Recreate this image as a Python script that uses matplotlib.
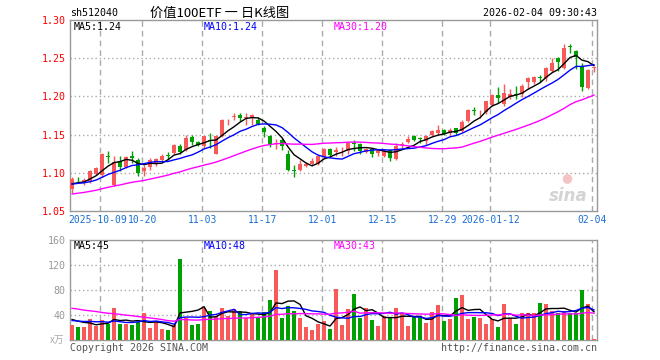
import numpy as np
import pandas as pd
import matplotlib
matplotlib.use("Agg")
import matplotlib.pyplot as plt

# 价值100ETF (sh512040) 日K线, 2025-09-24 .. 2026-02-04
open_ = [1.079, 1.0905, 1.087, 1.0895, 1.099, 1.097, 1.1215, 1.084, 1.115, 1.108,
         1.1225, 1.117, 1.102, 1.107, 1.111, 1.117, 1.123, 1.126, 1.135, 1.130,
         1.1465, 1.140, 1.135, 1.1435, 1.125, 1.1487, 1.166, 1.173, 1.176, 1.172,
         1.172, 1.1697, 1.158, 1.1487, 1.138, 1.1435, 1.125, 1.1035, 1.104, 1.1083,
         1.1114, 1.112, 1.1206, 1.1313, 1.127, 1.128, 1.1287, 1.139, 1.1383, 1.127,
         1.1313, 1.126, 1.1217, 1.1296, 1.1183, 1.1365, 1.1409, 1.1478, 1.1445, 1.1413,
         1.150, 1.152, 1.1565, 1.152, 1.158, 1.1548, 1.168, 1.1815, 1.178, 1.179,
         1.189, 1.2018, 1.190, 1.1987, 1.2022, 1.203, 1.2184, 1.2184, 1.225, 1.224,
         1.2329, 1.2504, 1.2368, 1.2655, 1.2592, 1.239, 1.211, 1.237]
high = [1.094, 1.094, 1.093, 1.104, 1.107, 1.126, 1.128, 1.122, 1.1225, 1.1225,
        1.128, 1.119, 1.110, 1.119, 1.120, 1.124, 1.127, 1.138, 1.138, 1.150,
        1.150, 1.142, 1.148, 1.152, 1.150, 1.171, 1.171, 1.178, 1.178, 1.178,
        1.177, 1.173, 1.161, 1.150, 1.144, 1.1456, 1.130, 1.1105, 1.117, 1.1136,
        1.119, 1.123, 1.132, 1.1326, 1.134, 1.134, 1.140, 1.1435, 1.139, 1.1326,
        1.1326, 1.131, 1.131, 1.131, 1.139, 1.140, 1.148, 1.150, 1.147, 1.150,
        1.1565, 1.163, 1.157, 1.159, 1.159, 1.169, 1.1835, 1.1855, 1.1825, 1.1943,
        1.2031, 1.2118, 1.2162, 1.2096, 1.214, 1.2162, 1.226, 1.2272, 1.228, 1.2382,
        1.2504, 1.2522, 1.268, 1.2689, 1.261, 1.2434, 1.236, 1.2382]
low = [1.074, 1.086, 1.084, 1.086, 1.097, 1.095, 1.113, 1.083, 1.103, 1.106,
       1.113, 1.096, 1.096, 1.104, 1.109, 1.115, 1.117, 1.1245, 1.125, 1.128,
       1.137, 1.135, 1.133, 1.133, 1.124, 1.147, 1.162, 1.169, 1.168, 1.163,
       1.163, 1.162, 1.147, 1.134, 1.131, 1.130, 1.103, 1.095, 1.103, 1.1075,
       1.110, 1.110, 1.119, 1.121, 1.122, 1.122, 1.125, 1.128, 1.125, 1.126,
       1.121, 1.1226, 1.121, 1.115, 1.117, 1.1326, 1.139, 1.1413, 1.139, 1.137,
       1.148, 1.150, 1.150, 1.150, 1.149, 1.154, 1.167, 1.1755, 1.1715, 1.1776,
       1.1877, 1.192, 1.1877, 1.1965, 1.1965, 1.1987, 1.2096, 1.216, 1.2193, 1.2206,
       1.2316, 1.2338, 1.236, 1.2566, 1.236, 1.2066, 1.2096, 1.2316]
close = [1.092, 1.090, 1.091, 1.1018, 1.106, 1.1245, 1.1205, 1.114, 1.108, 1.1205,
         1.119, 1.100, 1.106, 1.117, 1.118, 1.1225, 1.1225, 1.136, 1.127, 1.1455,
         1.140, 1.136, 1.148, 1.142, 1.1487, 1.1697, 1.167, 1.174, 1.172, 1.173,
         1.1755, 1.1645, 1.1535, 1.138, 1.139, 1.1346, 1.104, 1.1025, 1.1114, 1.1114,
         1.1158, 1.1215, 1.131, 1.1239, 1.1296, 1.1287, 1.139, 1.138, 1.1283, 1.1313,
         1.124, 1.1296, 1.129, 1.1196, 1.1357, 1.137, 1.1443, 1.1435, 1.1443, 1.1478,
         1.1543, 1.1565, 1.1513, 1.1565, 1.152, 1.167, 1.182, 1.181, 1.1785, 1.1934,
         1.2022, 1.1978, 1.204, 1.2031, 1.2018, 1.214, 1.2237, 1.225, 1.2245, 1.2373,
         1.2439, 1.2447, 1.2636, 1.265, 1.2513, 1.2127, 1.2346, 1.2373]
# 成交量 (万手)
volume = [24, 20.8, 20.8, 33.6, 22.4, 31.5, 25.6, 51.2, 25.1, 25.6,
          24, 29.3, 42.7, 19.2, 29.3, 17.6, 15.5, 24.5, 129.6, 35.7,
          24, 25.6, 51.7, 46.4, 37.9, 51.7, 38.4, 49.6, 46.4, 35.7,
          41.1, 34.7, 44.8, 64, 112, 35.7, 54.4, 46.4, 35.7, 21.3,
          16, 25.6, 30.9, 17.6, 81.6, 24, 49.6, 73.6, 35.7, 51.7,
          32, 22.4, 38.4, 34.7, 51.2, 43.2, 22.4, 36.3, 36.3, 27.2,
          45, 56, 30.4, 33.6, 67, 72, 34, 37, 35, 26,
          34, 20.8, 58, 36, 25.6, 44, 44, 44, 60, 57,
          47, 44, 47, 42.7, 42.7, 80, 58, 2.1]

# estimated closes / volumes before the window (only feed the moving averages)
prior_close = [1.058, 1.061, 1.060, 1.064, 1.062, 1.066, 1.063, 1.067, 1.065, 1.068,
               1.066, 1.069, 1.064, 1.067, 1.070, 1.068, 1.066, 1.071, 1.069, 1.072,
               1.080, 1.084, 1.087, 1.085, 1.088, 1.083, 1.086, 1.082, 1.085]
prior_volume = [58, 72, 66, 55, 80, 61, 70, 59, 64, 52, 68, 75, 57, 62, 60, 66, 55,
                45, 42, 42, 30, 28, 31, 29, 30, 34, 31, 38, 37]

holidays = ["2025-10-01", "2025-10-02", "2025-10-03", "2025-10-06", "2025-10-07",
            "2025-10-08", "2026-01-01", "2026-01-02"]
tick_dates = ["2025-10-09", "2025-10-20", "2025-11-03", "2025-11-17", "2025-12-01",
              "2025-12-15", "2025-12-29", "2026-01-12", "2026-02-04"]
tick_labels = ["2025-10-09", "10-20", "11-03", "11-17", "12-01", "12-15",
               "12-29", "2026-01-12", "02-04"]

RED = "#f85a5a"
GREEN = "#00a000"
GRID = "#aaaaaa"
MONO = "DejaVu Sans Mono"
CJK = ["Noto Sans CJK SC", "DejaVu Sans"]

dates = pd.bdate_range("2025-09-24", "2026-02-04")
dates = dates[~dates.isin(pd.to_datetime(holidays))]
n = len(close)
x = np.arange(n)
tick_idx = [dates.get_loc(pd.Timestamp(d)) for d in tick_dates]
grid_x = [t - 0.3 for t in tick_idx]

o = np.array(open_)
c = np.array(close)
h = np.array(high)
l = np.array(low)
up = c >= o
colors = np.where(up, RED, GREEN)

all_close = pd.Series(prior_close + close)
all_vol = pd.Series(prior_volume + volume)
k = len(prior_close)
ma = {p: all_close.rolling(p, min_periods=1).mean().values[k:] for p in (5, 10, 30)}
vma = {p: all_vol.rolling(p, min_periods=1).mean().values[k:] for p in (5, 10, 30)}
ma_colors = {5: "black", 10: "#0000ff", 30: "#ff00ff"}

W, H = 660, 360
fig = plt.figure(figsize=(W / 100, H / 100), dpi=100)


def fx(px):
    return px / W


def fy(py):
    return 1 - py / H


L, R = 70, 597
ax = fig.add_axes([fx(L), fy(211), fx(R - L), (211 - 20) / H])
axv = fig.add_axes([fx(L), fy(340), fx(R - L), (340 - 240) / H])

xlim = (-0.35, n - 0.5)

# --- price panel ---
ax.vlines(x, l, h, colors=colors, lw=1, zorder=3)
body = np.maximum(np.abs(c - o), 0.0009)
ax.bar(x, body, bottom=np.minimum(o, c), width=0.8, color=colors, zorder=4,
       linewidth=0)
for p in (5, 10, 30):
    ax.plot(x, ma[p], color=ma_colors[p], lw=1, zorder=5)
ax.set_xlim(*xlim)
ax.set_ylim(1.05, 1.30)
yt = np.arange(1.05, 1.301, 0.05)
ax.set_yticks(yt)
ax.set_yticklabels([f"{v:.2f}" for v in yt], color="red", fontsize=7.2, family=MONO)
for v in yt[1:-1]:
    ax.axhline(v, color=GRID, lw=1, ls=(0, (1, 2)), zorder=1)
# first two labels sit edge to edge in the original
label_x = list(grid_x)
label_x[0] -= 0.5
label_x[1] += 0.1
ax.set_xticks(label_x)
ax.set_xticklabels(tick_labels, color="#1a6fd4", fontsize=7.0, family=MONO)

# --- volume panel ---
axv.bar(x, volume, width=0.8, color=colors, linewidth=0, zorder=3)
for p in (5, 10, 30):
    axv.plot(x, vma[p], color=ma_colors[p], lw=1, zorder=4)
axv.set_xlim(*xlim)
axv.set_ylim(0, 160)
axv.set_yticks([40, 80, 120, 160])
axv.set_yticklabels(["40", "80", "120", "160"], color="#999999", fontsize=7.2,
                    family=MONO)
for v in (40, 80, 120):
    axv.axhline(v, color=GRID, lw=1, ls=(0, (1, 2)), zorder=1)
axv.set_xticks([])

for a in (ax, axv):
    for g in grid_x:
        a.axvline(g, color=GRID, lw=1, ls=(0, (4, 3)), zorder=1)
    for s in a.spines.values():
        s.set_color("#999999")
        s.set_linewidth(1)
    a.tick_params(length=0, pad=3)

# --- texts ---
txt = dict(fontsize=7.2, family=MONO, va="center")
fig.text(fx(70), fy(13), "sh512040", **txt)
fig.text(fx(220), fy(13), "价值100ETF 一 日K线图", fontsize=9.5, family=CJK,
         ha="center", va="center")
fig.text(fx(597), fy(13), "2026-02-04 09:30:43", ha="right", **txt)

fig.text(fx(74), fy(27), f"MA5:{ma[5][-1]:.2f}", color="black", **txt)
fig.text(fx(204), fy(27), f"MA10:{ma[10][-1]:.2f}", color="#0000ff", **txt)
fig.text(fx(334), fy(27), f"MA30:{ma[30][-1]:.2f}", color="#ff00ff", **txt)

fig.text(fx(74), fy(246), f"MA5:{vma[5][-1]:.0f}", color="black", **txt)
fig.text(fx(204), fy(246), f"MA10:{vma[10][-1]:.0f}", color="#0000ff", **txt)
fig.text(fx(334), fy(246), f"MA30:{vma[30][-1]:.0f}", color="#ff00ff", **txt)

fig.text(fx(64), fy(340), "x万", fontsize=7, family=CJK, color="#aaaaaa",
         ha="right", va="center")
fig.text(fx(70), fy(348), "Copyright 2026 SINA.COM", color="#555555", **txt)
fig.text(fx(597), fy(348), "http://finance.sina.com.cn", color="#555555",
         ha="right", **txt)
fig.text(fx(567), fy(178), "●", fontsize=9, color="#f4c4c4", ha="center",
         va="center", zorder=0)
fig.text(fx(568), fy(196), "sina", fontsize=12, style="italic", weight="bold",
         color="#d4d4d4", ha="center", va="center", zorder=0)

fig.savefig("out.png", dpi=100)
